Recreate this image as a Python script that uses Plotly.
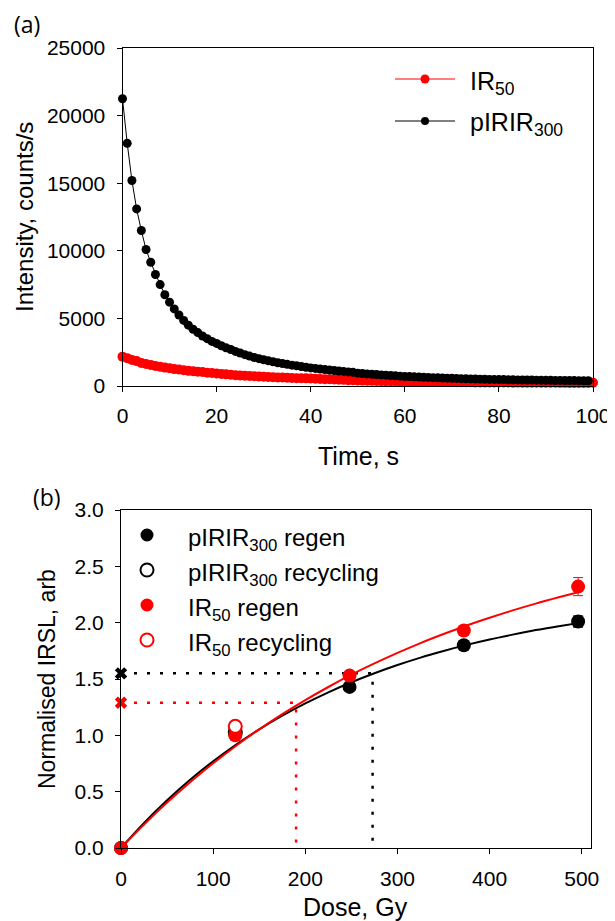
import plotly.graph_objects as go

# ---------------- Panel (a) data: IRSL decay curves ----------------
time_ir50 = list(range(0, 101))
ir50_signal = [2170, 2060, 1920, 1840, 1710, 1630, 1560, 1480, 1430, 1360,
               1320, 1250, 1215, 1170, 1120, 1100, 1055, 1030, 985, 965,
               930, 895, 860, 835, 800, 785, 755, 740, 715, 705,
               690, 665, 655, 635, 625, 605, 600, 580, 570, 565,
               550, 535, 525, 505, 500, 480, 465, 455, 430, 425,
               410, 400, 395, 380, 375, 362, 360, 348, 347, 338,
               335, 326, 324, 316, 314, 306, 305, 296, 297, 289,
               288, 281, 281, 274, 275, 268, 268, 262, 263, 257,
               258, 253, 254, 249, 250, 245, 246, 241, 243, 238,
               239, 235, 236, 232, 233, 229, 231, 227, 229, 226, 245]

time_pirir = list(range(0, 100))
pirir_signal = [21250, 17950, 15200, 13100, 11500, 10100, 9150, 8250, 7500, 6750,
                6200, 5700, 5250, 4850, 4500, 4200, 3950, 3700, 3500, 3300,
                3150, 2980, 2830, 2700, 2560, 2440, 2320, 2210, 2110, 2020,
                1940, 1860, 1790, 1720, 1660, 1600, 1540, 1490, 1440, 1390,
                1340, 1300, 1260, 1220, 1180, 1150, 1110, 1080, 1040, 1010,
                950, 925, 895, 870, 850, 820, 800, 775, 755, 730,
                705, 695, 675, 665, 645, 635, 615, 605, 590, 580,
                565, 560, 545, 540, 525, 520, 505, 500, 490, 488,
                475, 472, 465, 458, 450, 447, 440, 438, 430, 428,
                420, 418, 410, 412, 405, 402, 400, 395, 392, 388]

# ---------------- Panel (b) data: dose response ----------------
dose = [0, 124, 248, 372, 496]
pirir_regen = [0.0, 1.01, 1.43, 1.80, 2.01]
pirir_err = [0.01, 0.02, 0.02, 0.03, 0.05]
ir50_regen = [0.0, 1.00, 1.53, 1.93, 2.32]
ir50_err = [0.01, 0.02, 0.03, 0.04, 0.08]
recycling_dose = [124]
pirir_recycling = [1.03]
ir50_recycling = [1.08]

fit_dose = [0, 25, 50, 75, 100, 125, 150, 175, 200, 225, 250, 275, 300, 325,
            350, 375, 400, 425, 450, 475, 496]
fit_pirir = [0.0, 0.223, 0.424, 0.606, 0.770, 0.919, 1.053, 1.174, 1.283, 1.382,
             1.471, 1.551, 1.624, 1.690, 1.749, 1.803, 1.851, 1.894, 1.934, 1.969, 1.996]
fit_ir50 = [0.0, 0.209, 0.403, 0.584, 0.752, 0.908, 1.053, 1.188, 1.313, 1.429,
            1.538, 1.638, 1.732, 1.819, 1.899, 1.975, 2.044, 2.109, 2.169, 2.225, 2.270]

# natural signal (Ln/Tn) and equivalent dose
pirir_ln = 1.55
pirir_de = 273
ir50_ln = 1.29
ir50_de = 190

RED = "#ff0000"
BLACK = "#000000"
W, H = 615, 921
OFF = 8  # page body margin
FONT = "Liberation Sans"


def px(x):
    return (x - OFF) / W


def py(y):
    return 1 - (y - OFF) / H


fig = go.Figure()

# ---- panel (a) traces ----
fig.add_trace(go.Scatter(
    x=time_ir50, y=ir50_signal, mode="lines+markers", name="IR50",
    line=dict(color=RED, width=1), marker=dict(color=RED, size=10),
    cliponaxis=False, xaxis="x", yaxis="y"))
fig.add_trace(go.Scatter(
    x=time_pirir, y=pirir_signal, mode="lines+markers", name="pIRIR300",
    line=dict(color=BLACK, width=1), marker=dict(color=BLACK, size=9),
    cliponaxis=False, xaxis="x", yaxis="y"))

# ---- panel (b) traces ----
dot = "3px,10px"
fig.add_trace(go.Scatter(
    x=[0, pirir_de, pirir_de], y=[pirir_ln, pirir_ln, 0], mode="lines",
    line=dict(color=BLACK, width=2.5, dash=dot), xaxis="x2", yaxis="y2"))
fig.add_trace(go.Scatter(
    x=[0, ir50_de, ir50_de], y=[ir50_ln, ir50_ln, 0], mode="lines",
    line=dict(color=RED, width=2.5, dash=dot), xaxis="x2", yaxis="y2"))
fig.add_trace(go.Scatter(
    x=fit_dose, y=fit_pirir, mode="lines", line=dict(color=BLACK, width=2, shape="spline"),
    xaxis="x2", yaxis="y2"))
fig.add_trace(go.Scatter(
    x=fit_dose, y=fit_ir50, mode="lines", line=dict(color=RED, width=2, shape="spline"),
    xaxis="x2", yaxis="y2"))
fig.add_trace(go.Scatter(
    x=dose, y=pirir_regen, mode="markers", name="pIRIR300 regen",
    marker=dict(color=BLACK, size=14),
    error_y=dict(type="data", array=pirir_err, color=BLACK, thickness=1, width=5),
    cliponaxis=False, xaxis="x2", yaxis="y2"))
fig.add_trace(go.Scatter(
    x=recycling_dose, y=pirir_recycling, mode="markers", name="pIRIR300 recycling",
    marker=dict(color="white", size=13, line=dict(color=BLACK, width=2)),
    cliponaxis=False, xaxis="x2", yaxis="y2"))
fig.add_trace(go.Scatter(
    x=dose, y=ir50_regen, mode="markers", name="IR50 regen",
    marker=dict(color=RED, size=14),
    error_y=dict(type="data", array=ir50_err, color=RED, thickness=1, width=5),
    cliponaxis=False, xaxis="x2", yaxis="y2"))
fig.add_trace(go.Scatter(
    x=recycling_dose, y=ir50_recycling, mode="markers", name="IR50 recycling",
    marker=dict(color="white", size=13, line=dict(color=RED, width=2)),
    cliponaxis=False, xaxis="x2", yaxis="y2"))
fig.add_trace(go.Scatter(
    x=[0], y=[pirir_ln], mode="markers", marker=dict(symbol="x", color=BLACK, size=11),
    cliponaxis=False, xaxis="x2", yaxis="y2"))
fig.add_trace(go.Scatter(
    x=[0], y=[ir50_ln], mode="markers", marker=dict(symbol="x", color=RED, size=11),
    cliponaxis=False, xaxis="x2", yaxis="y2"))

axis_common = dict(showline=True, linecolor="black", linewidth=1, mirror=True,
                   ticks="outside", ticklen=5, tickwidth=1, tickcolor="black",
                   showgrid=False, zeroline=False, automargin=False,
                   tickfont=dict(family=FONT, size=21))

fig.update_layout(
    template="none",
    width=W, height=H, autosize=False,
    margin=dict(l=0, r=0, t=0, b=0, pad=0, autoexpand=False),
    paper_bgcolor="white", plot_bgcolor="white", showlegend=False,
    font=dict(family=FONT, size=21, color="black"),
    xaxis=dict(domain=[px(122.5), px(593)], range=[0, 100], dtick=20, anchor="y",
               ticklabelstandoff=6, **axis_common),
    yaxis=dict(domain=[py(386), py(48)], range=[0, 25000], dtick=5000, tickformat="d",
               anchor="x", ticklabelstandoff=7, **axis_common),
    xaxis2=dict(domain=[px(121), px(591)], range=[0, 510], dtick=100, anchor="y2",
                ticklabelstandoff=7, **axis_common),
    yaxis2=dict(domain=[py(848), py(510)], range=[0, 3], dtick=0.5, tickformat=".1f",
                anchor="x2", ticklabelstandoff=7, **axis_common),
)

ann = []
# panel labels
ann.append(dict(text="(a)", x=px(27), y=py(24), font=dict(family="Open Sans", size=23)))
ann.append(dict(text="(b)", x=px(47), y=py(497), font=dict(family="Open Sans", size=23)))
# axis titles
ann.append(dict(text="Time, s", x=px(358), y=py(456), font=dict(family=FONT, size=25)))
ann.append(dict(text="Intensity, counts/s", x=px(24), y=py(217), textangle=-90,
                font=dict(family=FONT, size=24)))
ann.append(dict(text="Dose, Gy", x=px(356), y=py(907), font=dict(family=FONT, size=25)))
ann.append(dict(text="Normalised IRSL, arb", x=px(47), y=py(679), textangle=-90,
                font=dict(family=FONT, size=23)))
# legend (a) texts
ann.append(dict(text="IR<sub>50</sub>", x=px(468), y=py(83), xanchor="left",
                font=dict(family=FONT, size=25)))
ann.append(dict(text="pIRIR<sub>300</sub>", x=px(468), y=py(124), xanchor="left",
                font=dict(family=FONT, size=25)))
# legend (b) texts
leg_b = ["pIRIR<sub>300</sub> regen", "pIRIR<sub>300</sub> recycling",
         "IR<sub>50</sub> regen", "IR<sub>50</sub> recycling"]
for i, t in enumerate(leg_b):
    ann.append(dict(text=t, x=px(186), y=py(539 + 35 * i), xanchor="left",
                    font=dict(family=FONT, size=24)))
for a in ann:
    a.setdefault("xanchor", "center")
    a.update(xref="paper", yref="paper", showarrow=False, yanchor="middle")
fig.update_layout(annotations=ann)

shapes = []
# legend (a) samples
for yy, col, r in [(79, RED, 4.5), (121, BLACK, 4)]:
    shapes.append(dict(type="line", xref="paper", yref="paper", x0=px(395), x1=px(455),
                       y0=py(yy), y1=py(yy), line=dict(color=col, width=1.2)))
    shapes.append(dict(type="circle", xref="paper", yref="paper", x0=px(425 - r), x1=px(425 + r),
                       y0=py(yy + r), y1=py(yy - r), fillcolor=col, line=dict(color=col, width=0)))
# legend (b) symbols
for i, (col, filled) in enumerate([(BLACK, True), (BLACK, False), (RED, True), (RED, False)]):
    yy = 535 + 35 * i
    r = 6.5
    shapes.append(dict(type="circle", xref="paper", yref="paper", x0=px(147 - r), x1=px(147 + r),
                       y0=py(yy + r), y1=py(yy - r),
                       fillcolor=col if filled else "white",
                       line=dict(color=col, width=0 if filled else 2)))
fig.update_layout(shapes=shapes)

fig.write_html("out.html")
